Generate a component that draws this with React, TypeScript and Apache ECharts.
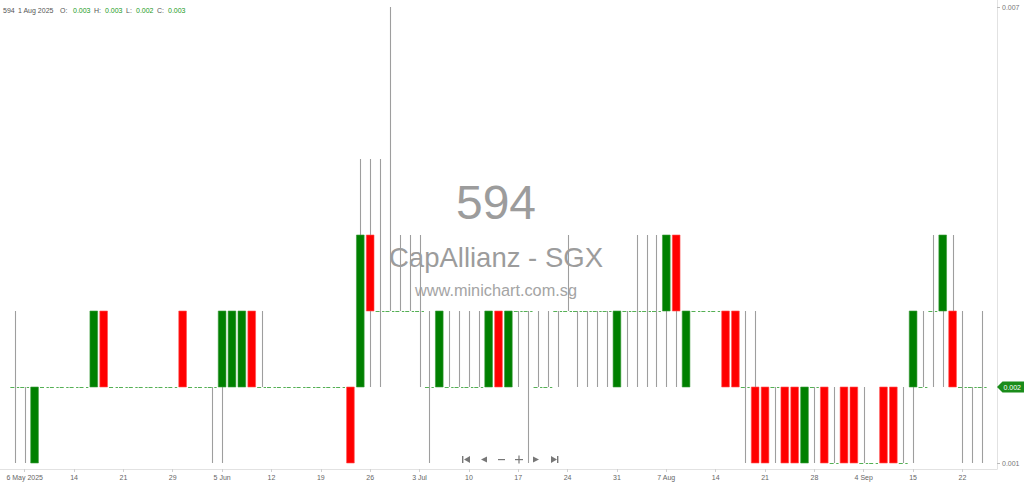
import React, { useEffect, useRef } from "react";
import * as echarts from "echarts";

// OHLC values (SGD), one entry per trading bar, 5 May 2025 .. 24 Sep 2025
const openVals = [
  0.002, 0.002, 0.001, 0.002, 0.002, 0.002, 0.002, 0.002, 0.002, 0.003,
  0.002, 0.002, 0.002, 0.002, 0.002, 0.002, 0.002, 0.003, 0.002, 0.002,
  0.002, 0.002, 0.002, 0.002, 0.003, 0.002, 0.002, 0.002, 0.002, 0.002,
  0.002, 0.002, 0.002, 0.002, 0.002, 0.002, 0.004, 0.003, 0.003, 0.003,
  0.003, 0.003, 0.002, 0.002, 0.002, 0.002, 0.002, 0.002, 0.002, 0.003,
  0.002, 0.003, 0.003, 0.002, 0.002, 0.003, 0.003, 0.003, 0.003, 0.003,
  0.003, 0.002, 0.003, 0.003, 0.003, 0.003, 0.003, 0.004, 0.002, 0.003,
  0.003, 0.003, 0.003, 0.003, 0.002, 0.002, 0.002, 0.002, 0.002, 0.002,
  0.001, 0.002, 0.002, 0.001, 0.002, 0.002, 0.001, 0.001, 0.002, 0.002,
  0.001, 0.002, 0.002, 0.003, 0.003, 0.003, 0.002, 0.002, 0.002,
];
const closeVals = [
  0.002, 0.002, 0.002, 0.002, 0.002, 0.002, 0.002, 0.002, 0.003, 0.002,
  0.002, 0.002, 0.002, 0.002, 0.002, 0.002, 0.002, 0.002, 0.002, 0.002,
  0.002, 0.003, 0.003, 0.003, 0.002, 0.002, 0.002, 0.002, 0.002, 0.002,
  0.002, 0.002, 0.002, 0.002, 0.001, 0.004, 0.003, 0.003, 0.003, 0.003,
  0.003, 0.003, 0.002, 0.003, 0.002, 0.002, 0.002, 0.002, 0.003, 0.002,
  0.003, 0.003, 0.003, 0.002, 0.002, 0.003, 0.003, 0.003, 0.003, 0.003,
  0.003, 0.003, 0.003, 0.003, 0.003, 0.003, 0.004, 0.003, 0.003, 0.003,
  0.003, 0.003, 0.002, 0.002, 0.002, 0.001, 0.001, 0.002, 0.001, 0.001,
  0.002, 0.002, 0.001, 0.001, 0.001, 0.001, 0.001, 0.001, 0.001, 0.001,
  0.001, 0.003, 0.002, 0.003, 0.004, 0.002, 0.002, 0.002, 0.002,
];
const lowVals = [
  0.001, 0.001, 0.001, 0.002, 0.002, 0.002, 0.002, 0.002, 0.002, 0.002,
  0.002, 0.002, 0.002, 0.002, 0.002, 0.002, 0.002, 0.002, 0.002, 0.002,
  0.001, 0.001, 0.002, 0.002, 0.002, 0.002, 0.002, 0.002, 0.002, 0.002,
  0.002, 0.002, 0.002, 0.002, 0.001, 0.002, 0.002, 0.002, 0.003, 0.003,
  0.003, 0.002, 0.001, 0.002, 0.002, 0.002, 0.002, 0.002, 0.002, 0.002,
  0.002, 0.002, 0.001, 0.002, 0.002, 0.002, 0.003, 0.002, 0.002, 0.002,
  0.002, 0.002, 0.002, 0.002, 0.002, 0.002, 0.002, 0.002, 0.002, 0.003,
  0.003, 0.003, 0.002, 0.002, 0.001, 0.001, 0.001, 0.001, 0.001, 0.001,
  0.001, 0.001, 0.001, 0.001, 0.001, 0.001, 0.001, 0.001, 0.001, 0.001,
  0.001, 0.001, 0.002, 0.002, 0.002, 0.002, 0.001, 0.001, 0.001,
];
const highVals = [
  0.003, 0.002, 0.002, 0.002, 0.002, 0.002, 0.002, 0.002, 0.003, 0.003,
  0.002, 0.002, 0.002, 0.002, 0.002, 0.002, 0.002, 0.003, 0.002, 0.002,
  0.002, 0.003, 0.003, 0.003, 0.003, 0.003, 0.002, 0.002, 0.002, 0.002,
  0.002, 0.002, 0.002, 0.002, 0.002, 0.005, 0.005, 0.005, 0.007, 0.004,
  0.004, 0.004, 0.003, 0.003, 0.003, 0.003, 0.003, 0.003, 0.003, 0.003,
  0.003, 0.003, 0.003, 0.003, 0.003, 0.003, 0.004, 0.003, 0.003, 0.003,
  0.003, 0.003, 0.003, 0.004, 0.004, 0.004, 0.004, 0.004, 0.003, 0.003,
  0.003, 0.003, 0.003, 0.003, 0.003, 0.003, 0.002, 0.002, 0.002, 0.002,
  0.002, 0.002, 0.002, 0.002, 0.002, 0.002, 0.002, 0.001, 0.002, 0.002,
  0.002, 0.003, 0.003, 0.004, 0.004, 0.004, 0.003, 0.002, 0.003,
];

// x-axis tick labels, one every 5 bars starting at the second bar (6 May)
const tickLabels = [
  "6 May 2025", "14", "21", "29", "5 Jun", "12", "19", "26", "3 Jul", "10",
  "17", "24", "31", "7 Aug", "14", "21", "28", "4 Sep", "15", "22",
];
const yTickValues = [0.001, 0.007];

const header = { code: "594", date: "1 Aug 2025", o: "0.003", h: "0.003", l: "0.002", c: "0.003" };
const lastPrice = 0.002;

const FONT = "'Liberation Sans', Arial, sans-serif";

export default function App() {
  const ref = useRef<HTMLDivElement>(null);

  useEffect(() => {
    if (!ref.current) return;
    const chart = echarts.init(ref.current, undefined, { renderer: "svg" });

    const nBars = openVals.length;
    // one empty band on each side of the bars
    const categories = Array.from({ length: nBars + 2 }, (_, i) => String(i));
    const data = openVals.map((o, k) => [k + 1, o, closeVals[k], lowVals[k], highVals[k]]);

    const showTick = (idx: number) => idx >= 2 && (idx - 2) % 5 === 0 && (idx - 2) / 5 < tickLabels.length;

    const pxPerUnit = 456 / 0.006;
    const yMax = 0.007 + 7 / pxPerUnit;
    const yMin = 0.001 - 6 / pxPerUnit;

    const hdrFont = `7px ${FONT}`;
    const baseGraphic: any[] = [
      // watermark
      { type: "text", z: 0, style: { text: "594", x: 496, y: 202, fill: "#9c9c9c", font: `48px ${FONT}`, align: "center", verticalAlign: "middle" } },
      { type: "text", z: 0, style: { text: "CapAllianz - SGX", x: 496, y: 257, fill: "#9c9c9c", font: `27.5px ${FONT}`, align: "center", verticalAlign: "middle" } },
      { type: "text", z: 0, style: { text: "www.minichart.com.sg", x: 496, y: 290, fill: "#a4a4a4", font: `16.3px ${FONT}`, align: "center", verticalAlign: "middle" } },
      // header
      { type: "text", style: { text: header.code, x: 3, y: 10, fill: "#555", font: hdrFont, verticalAlign: "middle" } },
      { type: "text", style: { text: header.date, x: 18, y: 10, fill: "#555", font: hdrFont, verticalAlign: "middle" } },
      { type: "text", style: { text: "O:", x: 60, y: 10, fill: "#555", font: hdrFont, verticalAlign: "middle" } },
      { type: "text", style: { text: header.o, x: 73, y: 10, fill: "#1a9a1a", font: hdrFont, verticalAlign: "middle" } },
      { type: "text", style: { text: "H:", x: 94, y: 10, fill: "#555", font: hdrFont, verticalAlign: "middle" } },
      { type: "text", style: { text: header.h, x: 105, y: 10, fill: "#1a9a1a", font: hdrFont, verticalAlign: "middle" } },
      { type: "text", style: { text: "L:", x: 126, y: 10, fill: "#555", font: hdrFont, verticalAlign: "middle" } },
      { type: "text", style: { text: header.l, x: 136, y: 10, fill: "#1a9a1a", font: hdrFont, verticalAlign: "middle" } },
      { type: "text", style: { text: "C:", x: 157, y: 10, fill: "#555", font: hdrFont, verticalAlign: "middle" } },
      { type: "text", style: { text: header.c, x: 168, y: 10, fill: "#1a9a1a", font: hdrFont, verticalAlign: "middle" } },
      // navigation icons
      { type: "rect", shape: { x: 462, y: 456, width: 1.4, height: 7 }, style: { fill: "#777" } },
      { type: "polygon", shape: { points: [[470, 456], [470, 463], [464, 459.5]] }, style: { fill: "#777" } },
      { type: "polygon", shape: { points: [[487, 456.5], [487, 462.5], [481, 459.5]] }, style: { fill: "#777" } },
      { type: "rect", shape: { x: 498, y: 459, width: 7, height: 1.2 }, style: { fill: "#777" } },
      { type: "rect", shape: { x: 515, y: 459, width: 8, height: 1.2 }, style: { fill: "#777" } },
      { type: "rect", shape: { x: 518.4, y: 455.5, width: 1.2, height: 8 }, style: { fill: "#777" } },
      { type: "polygon", shape: { points: [[533, 456.5], [533, 462.5], [539, 459.5]] }, style: { fill: "#777" } },
      { type: "polygon", shape: { points: [[551, 456], [551, 463], [557, 459.5]] }, style: { fill: "#777" } },
      { type: "rect", shape: { x: 557, y: 456, width: 1.4, height: 7 }, style: { fill: "#777" } },
    ];

    const option: any = {
      animation: false,
      backgroundColor: "#ffffff",
      grid: { left: 0, right: 27, top: 0, bottom: 15, containLabel: false },
      xAxis: {
        type: "category",
        data: categories,
        boundaryGap: true,
        axisLine: { show: true, lineStyle: { color: "#e2e2e2", width: 1 } },
        axisTick: { show: true, interval: (i: number) => showTick(i), alignWithLabel: true, length: 3, lineStyle: { color: "#cfcfcf" } },
        axisLabel: {
          show: true,
          interval: (i: number) => showTick(i),
          formatter: (_v: string, i: number) => (showTick(i) ? tickLabels[(i - 2) / 5] : ""),
          fontSize: 7,
          color: "#666",
          fontFamily: FONT,
          margin: 5,
        },
        splitLine: { show: false },
      },
      yAxis: {
        type: "value",
        position: "right",
        min: yMin,
        max: yMax,
        scale: true,
        axisLine: { show: true, lineStyle: { color: "#e2e2e2" } },
        axisTick: { show: true, customValues: yTickValues, length: 3, lineStyle: { color: "#bbb" } },
        axisLabel: {
          show: true,
          customValues: yTickValues,
          formatter: (v: number) => v.toFixed(3),
          fontSize: 7,
          color: "#777",
          fontFamily: FONT,
          margin: 5,
        },
        splitLine: { show: false },
      },
      series: [
        {
          type: "custom",
          data,
          encode: { x: 0, y: [1, 2, 3, 4] },
          clip: true,
          z: 5,
          renderItem: (params: any, api: any) => {
            const idx = api.value(0);
            const o = api.value(1);
            const c = api.value(2);
            const l = api.value(3);
            const h = api.value(4);
            const band = api.size([1, 0])[0];
            const bw = band * 0.78;
            const pO = api.coord([idx, o]);
            const pC = api.coord([idx, c]);
            const pL = api.coord([idx, l]);
            const pH = api.coord([idx, h]);
            const xc = pO[0];
            const xw = Math.round(xc) + 0.5;
            const children: any[] = [];
            if (h !== l) {
              children.push({
                type: "line",
                shape: { x1: xw, y1: pH[1], x2: xw, y2: pL[1] },
                style: { stroke: "#9e9e9e", lineWidth: 1.1 },
              });
            }
            if (o !== c) {
              const top = Math.min(pO[1], pC[1]);
              const hgt = Math.abs(pO[1] - pC[1]);
              const col = c > o ? "#008000" : "#ff0000";
              children.push({
                type: "rect",
                shape: { x: xc - bw / 2, y: top, width: bw, height: hgt },
                style: { fill: col, stroke: c > o ? "#3a9a3a" : "#ff5050", lineWidth: 0.6 },
              });
            } else {
              const yd = Math.round(pO[1]) + 0.5;
              children.push({
                type: "line",
                shape: { x1: xc - band / 2 + 0.5, y1: yd, x2: xc + band / 2 - 0.5, y2: yd },
                style: { stroke: "#55b055", lineWidth: 1, lineDash: [4, 2.5] },
              });
            }
            return { type: "group", children };
          },
        },
      ],
      graphic: baseGraphic,
    };

    chart.setOption(option);

    const yTag = chart.convertToPixel({ yAxisIndex: 0 }, lastPrice) as number;
    const tagGraphic = [
      {
        type: "polygon",
        z: 10,
        shape: { points: [[997, yTag], [1002.5, yTag - 5.5], [1024, yTag - 5.5], [1024, yTag + 5.5], [1002.5, yTag + 5.5]] },
        style: { fill: "#1a8c1a" },
      },
      {
        type: "text",
        z: 11,
        style: { text: lastPrice.toFixed(3), x: 1003.5, y: yTag + 0.5, fill: "#ffffff", font: `7px ${FONT}`, verticalAlign: "middle" },
      },
    ];
    chart.setOption({ graphic: [...baseGraphic, ...tagGraphic] });

    return () => {
      chart.dispose();
    };
  }, []);

  return (
    <div
      ref={ref}
      style={{ position: "fixed", left: 0, top: 0, width: 1024, height: 484, background: "#fff" }}
    />
  );
}
